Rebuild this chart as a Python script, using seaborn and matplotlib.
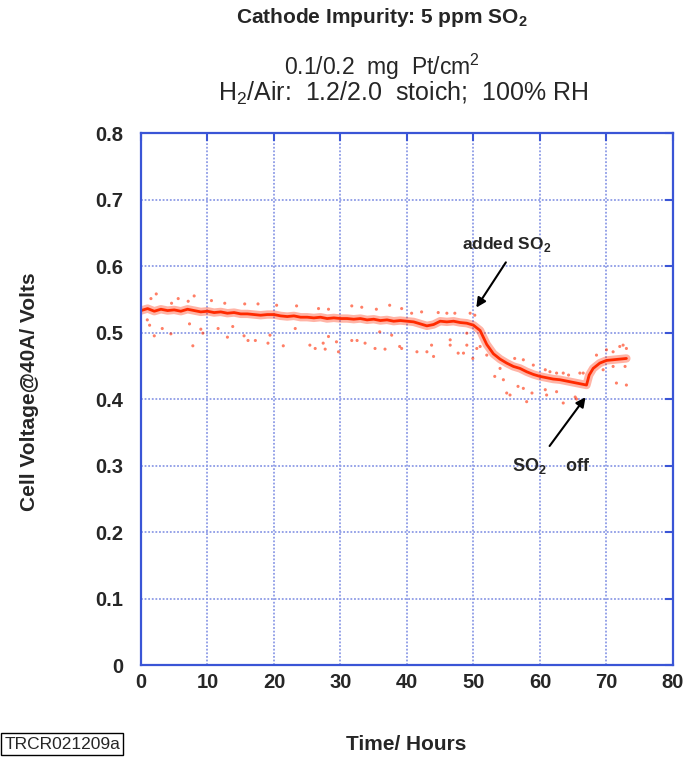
import matplotlib
matplotlib.use("Agg")
import matplotlib.pyplot as plt
import seaborn as sns
import pandas as pd

# main trend of the cell voltage (hours, volts)
trend_t = [0, 1, 2, 3, 4, 5, 6, 7, 8, 9, 10, 11, 12, 13, 14, 15, 16, 17, 18, 19,
           20, 21, 22, 23, 24, 25, 26, 27, 28, 29, 30, 31, 32, 33, 34, 35, 36, 37, 38, 39,
           40, 41, 42, 43, 44, 45, 46, 47, 48, 49, 50, 51, 52, 53, 54, 55, 56, 57, 58, 59,
           60, 61, 62, 63, 64, 65, 66, 67, 67.4, 68, 69, 70, 71, 72, 73]
trend_v = [0.533, 0.536, 0.532, 0.535, 0.533, 0.534, 0.532, 0.535, 0.533, 0.531,
           0.532, 0.530, 0.531, 0.529, 0.530, 0.528, 0.528, 0.527, 0.526, 0.527,
           0.527, 0.525, 0.524, 0.525, 0.523, 0.523, 0.522, 0.523, 0.521, 0.522,
           0.521, 0.521, 0.520, 0.521, 0.519, 0.520, 0.518, 0.519, 0.517, 0.518,
           0.517, 0.516, 0.513, 0.510, 0.512, 0.517, 0.516, 0.517, 0.515, 0.514,
           0.511, 0.503, 0.482, 0.468, 0.460, 0.454, 0.449, 0.446, 0.441, 0.437,
           0.434, 0.432, 0.430, 0.429, 0.427, 0.425, 0.423, 0.421, 0.436, 0.446,
           0.454, 0.458, 0.459, 0.460, 0.461]

# scattered readings away from the trend
scatter_t = [0.95, 1.3, 2.0, 3.2, 4.5, 7.3, 7.8, 9.0, 9.3, 11.6, 13.0, 13.8, 15.5, 16.1,
             17.2, 19.1, 19.4, 2.3, 1.5, 5.6, 8.0, 4.6, 7.1, 10.6, 12.6, 15.6, 17.6,
             21.4, 23.2, 25.4, 26.2, 27.4, 27.7, 28.2, 29.4, 29.7, 31.7, 32.5, 33.7, 35.2,
             36.7, 37.7, 38.9, 35.9, 20.4, 23.4, 26.7, 28.2, 31.7, 33.2, 35.4, 37.4, 39.2,
             39.2, 41.5, 43.0, 43.7, 44.0, 46.5, 46.5, 47.7, 48.5, 49.0, 49.9, 50.5, 51.0,
             49.0, 40.7, 42.2, 44.7, 46.0, 47.2, 49.5, 50.2,
             53.2, 54.5, 55.0, 55.5, 56.7, 57.5, 58.0, 56.2, 57.5, 52.0, 54.0,
             58.8, 60.8, 61.0, 62.5, 63.5, 65.3, 65.5, 59.0, 60.8, 61.5, 62.5, 63.5, 64.3,
             66.0, 66.5, 68.5, 70.0, 71.0, 72.0, 72.5, 73.0, 71.5, 73.0, 69.5, 71.0, 72.8]
scatter_v = [0.519, 0.511, 0.495, 0.506, 0.498, 0.513, 0.480, 0.505, 0.499, 0.506, 0.493,
             0.509, 0.495, 0.488, 0.488, 0.484, 0.496, 0.558, 0.551, 0.551, 0.555, 0.544,
             0.547, 0.548, 0.544, 0.543, 0.543,
             0.480, 0.506, 0.481, 0.476, 0.484, 0.475, 0.494, 0.486, 0.471, 0.488, 0.488,
             0.484, 0.476, 0.475, 0.496, 0.479, 0.501, 0.541, 0.540, 0.536, 0.535, 0.540,
             0.538, 0.535, 0.541, 0.536,
             0.476, 0.471, 0.471, 0.481, 0.464, 0.489, 0.481, 0.469, 0.469, 0.481, 0.461,
             0.476, 0.479, 0.499, 0.529, 0.531, 0.530, 0.529, 0.529, 0.529, 0.526,
             0.434, 0.429, 0.409, 0.406, 0.419, 0.416, 0.396, 0.461, 0.459, 0.466, 0.446,
             0.409, 0.414, 0.406, 0.411, 0.394, 0.403, 0.400, 0.451, 0.444, 0.441, 0.439,
             0.439, 0.436, 0.439, 0.439, 0.466, 0.474, 0.471, 0.479, 0.481, 0.476, 0.424,
             0.421, 0.444, 0.449, 0.449]

x_ticks = [0, 10, 20, 30, 40, 50, 60, 70, 80]
y_ticks = [0, 0.1, 0.2, 0.3, 0.4, 0.5, 0.6, 0.7, 0.8]
y_tick_labels = ["0", "0.1", "0.2", "0.3", "0.4", "0.5", "0.6", "0.7", "0.8"]

sns.set_style("white")
plt.rcParams["font.family"] = ["Liberation Sans", "DejaVu Sans"]
plt.rcParams["mathtext.fontset"] = "custom"
plt.rcParams["mathtext.rm"] = "Liberation Sans"
plt.rcParams["mathtext.bf"] = "Liberation Sans:bold"

blue = "#3a55d6"
red = "#ff2a00"

trend = pd.DataFrame({"t": trend_t, "v": trend_v})
pts = pd.DataFrame({"t": scatter_t, "v": scatter_v})

fig = plt.figure(figsize=(6.9, 7.57), dpi=100)
ax = fig.add_axes([0.2043, 0.1215, 0.771, 0.7028])

sns.lineplot(data=trend, x="t", y="v", ax=ax, color=red, lw=6, alpha=0.35)
sns.lineplot(data=trend, x="t", y="v", ax=ax, color=red, lw=2)
sns.scatterplot(data=pts, x="t", y="v", ax=ax, color=red, s=5, alpha=0.6,
                edgecolor="none")

ax.set_xlim(0, 80)
ax.set_ylim(0, 0.8)
ax.set_xticks(x_ticks)
ax.set_yticks(y_ticks)
ax.set_yticklabels(y_tick_labels)
ax.grid(True, color="#8d9be6", linestyle=(0, (1, 1)), lw=1.3)
for s in ax.spines.values():
    s.set_color(blue)
    s.set_linewidth(1.6)
ax.tick_params(direction="in", length=6, width=1.5, color=blue, top=True, right=True,
               labelsize=14.5, pad=6)
ax.tick_params(axis="y", pad=13)
for lab in ax.get_xticklabels() + ax.get_yticklabels():
    lab.set_fontweight("bold")
ax.set_xlabel("")
ax.set_ylabel("")

fig.text(0.043, 0.483, "Cell Voltage@40A/ Volts", rotation=90, ha="center",
         va="center", fontsize=15, fontweight="bold")
fig.text(0.588, 0.016, "Time/ Hours", ha="center", va="center", fontsize=15,
         fontweight="bold")

fig.text(0.553, 0.977, r"Cathode Impurity: 5 ppm SO$_\mathbf{2}$", ha="center",
         va="center", fontsize=15, fontweight="bold")
fig.text(0.553, 0.911, r"0.1/0.2  mg  Pt/cm$^\mathrm{2}$", ha="center", va="center",
         fontsize=16.5)
fig.text(0.584, 0.876, r"H$_\mathrm{2}$/Air:  1.2/2.0  stoich;  100% RH", ha="center",
         va="center", fontsize=18)

fig.text(0.006, 0.017, "TRCR021209a", ha="left", va="center", fontsize=12.5,
         bbox=dict(boxstyle="square,pad=0.2", fc="white", ec="black", lw=1))

ax.text(48.3, 0.632, r"added SO$_\mathbf{2}$", fontsize=12.5, fontweight="bold",
        va="center", ha="left")
ax.annotate("", xy=(50.2, 0.534), xytext=(55.1, 0.609),
            arrowprops=dict(arrowstyle="-|>", color="black", lw=1.5, mutation_scale=14))
ax.text(55.8, 0.300, r"SO$_\mathbf{2}$    off", fontsize=13, fontweight="bold",
        va="center", ha="left")
ax.annotate("", xy=(67.1, 0.406), xytext=(61.2, 0.326),
            arrowprops=dict(arrowstyle="-|>", color="black", lw=1.5, mutation_scale=14))

fig.savefig("out.png", dpi=100)
